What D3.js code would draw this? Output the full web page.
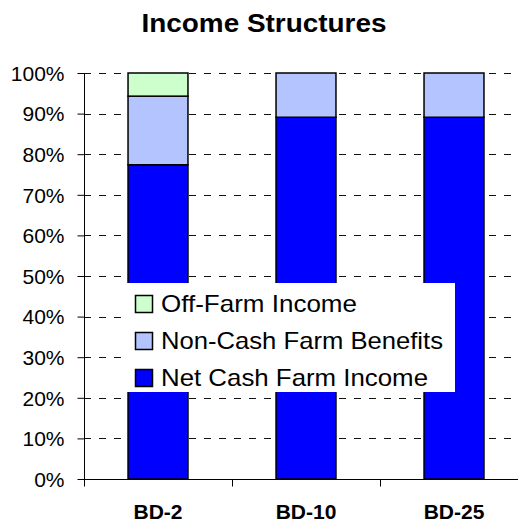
<!DOCTYPE html>
<html>
<head>
<meta charset="utf-8">
<script src="https://cdn.jsdelivr.net/npm/d3@7"></script>
<style>
  html, body { margin: 0; padding: 0; background: #fff; }
  svg { display: block; font-family: Arial, "Liberation Sans", sans-serif; }
</style>
</head>
<body>
<svg id="chart" width="518" height="521"></svg>
<script>
// ---- Data ----
const categories = ["BD-2", "BD-10", "BD-25"];
const netCashFarmIncome = [0.774, 0.891, 0.891];
const nonCashFarmBenefits = [0.169, 0.109, 0.109];
const offFarmIncome = [0.057, 0.0, 0.0];
const seriesNames = ["Net Cash Farm Income", "Non-Cash Farm Benefits", "Off-Farm Income"];
const seriesColors = ["#0000FF", "#B3C4FF", "#CCFFCC"];
const yTicks = [0, 0.1, 0.2, 0.3, 0.4, 0.5, 0.6, 0.7, 0.8, 0.9, 1.0];
const titleText = "Income Structures";

// ---- Layout ----
const svg = d3.select("#chart");
const plot = { left: 84, right: 528, top: 73, bottom: 479 };

const table = categories.map((c, i) => ({
  cat: c,
  "Net Cash Farm Income": netCashFarmIncome[i],
  "Non-Cash Farm Benefits": nonCashFarmBenefits[i],
  "Off-Farm Income": offFarmIncome[i]
}));
const stacked = d3.stack().keys(seriesNames)(table);

const x = d3.scaleBand().domain(categories).range([plot.left, plot.right])
  .paddingInner(0.595).paddingOuter(0.2975);
const y = d3.scaleLinear().domain([0, 1]).range([plot.bottom, plot.top]);
const color = d3.scaleOrdinal().domain(seriesNames).range(seriesColors);

function fit(sel, w) {
  sel.attr("textLength", w).attr("lengthAdjust", "spacingAndGlyphs");
}

// Title
svg.append("text").attr("x", 264).attr("y", 32).attr("text-anchor", "middle")
  .attr("font-size", 25).attr("font-weight", "bold").text(titleText)
  .call(fit, 245);

// Gridlines
svg.append("g").selectAll("line").data(yTicks.filter(d => d > 0)).join("line")
  .attr("x1", plot.left).attr("x2", 518)
  .attr("y1", d => Math.round(y(d)) + 0.5).attr("y2", d => Math.round(y(d)) + 0.5)
  .attr("stroke", "#111").attr("stroke-width", 1).attr("stroke-dasharray", "7,8");

// Bars
const groups = svg.append("g").selectAll("g").data(stacked).join("g")
  .attr("fill", d => color(d.key));
groups.selectAll("rect").data(d => d.filter(s => s[1] - s[0] > 0)).join("rect")
  .attr("x", d => x(d.data.cat))
  .attr("width", x.bandwidth())
  .attr("y", d => y(d[1]))
  .attr("height", d => y(d[0]) - y(d[1]))
  .attr("stroke", "#000").attr("stroke-width", 1.5);

// Y axis
const yAxis = d3.axisLeft(y).tickValues(yTicks).tickFormat(d3.format(".0%"))
  .tickSize(7).tickPadding(13);
const yg = svg.append("g").attr("transform", `translate(${plot.left + 0.5},0)`).call(yAxis);
yg.select(".domain").attr("stroke", "#000").attr("d", `M0,${plot.top}V${plot.bottom}`);
yg.selectAll(".tick line").attr("stroke", "#000");
yg.selectAll(".tick text").attr("font-size", 21).attr("fill", "#000")
  .attr("font-family", "Arial, 'Liberation Sans', sans-serif")
  .attr("dy", "0.35em");

// X axis
const xTickScale = d3.scaleLinear().domain([0, 3]).range([plot.left, plot.right]);
const xg = svg.append("g").attr("transform", `translate(0,${plot.bottom + 0.5})`);
xg.append("line").attr("x1", plot.left).attr("x2", 518).attr("stroke", "#000");
xg.selectAll("line.t").data([0, 1, 2, 3]).join("line").attr("class", "t")
  .attr("x1", d => Math.round(xTickScale(d)) + 0.5).attr("x2", d => Math.round(xTickScale(d)) + 0.5)
  .attr("y1", 0).attr("y2", 7).attr("stroke", "#000");
xg.selectAll("text").data(categories).join("text")
  .attr("x", d => x(d) + x.bandwidth() / 2).attr("y", 39)
  .attr("text-anchor", "middle").attr("font-size", 21).attr("font-weight", "bold")
  .text(d => d);

// Legend
const legend = svg.append("g");
legend.append("rect").attr("x", 123).attr("y", 283).attr("width", 332).attr("height", 109)
  .attr("fill", "#fff");
const legendOrder = seriesNames.slice().reverse();
const legendWidths = { "Off-Farm Income": 196, "Non-Cash Farm Benefits": 282, "Net Cash Farm Income": 267 };
const li = legend.selectAll("g.item").data(legendOrder).join("g").attr("class", "item")
  .attr("transform", (d, i) => `translate(0,${295 + i * 37})`);
li.append("rect").attr("x", 135.5).attr("y", 0.5).attr("width", 17).attr("height", 17)
  .attr("fill", d => color(d)).attr("stroke", "#000").attr("stroke-width", 1.5);
li.append("text").attr("x", 161).attr("y", 17).attr("font-size", 24)
  .text(d => d).each(function (d) { d3.select(this).call(fit, legendWidths[d]); });
</script>
</body>
</html>
